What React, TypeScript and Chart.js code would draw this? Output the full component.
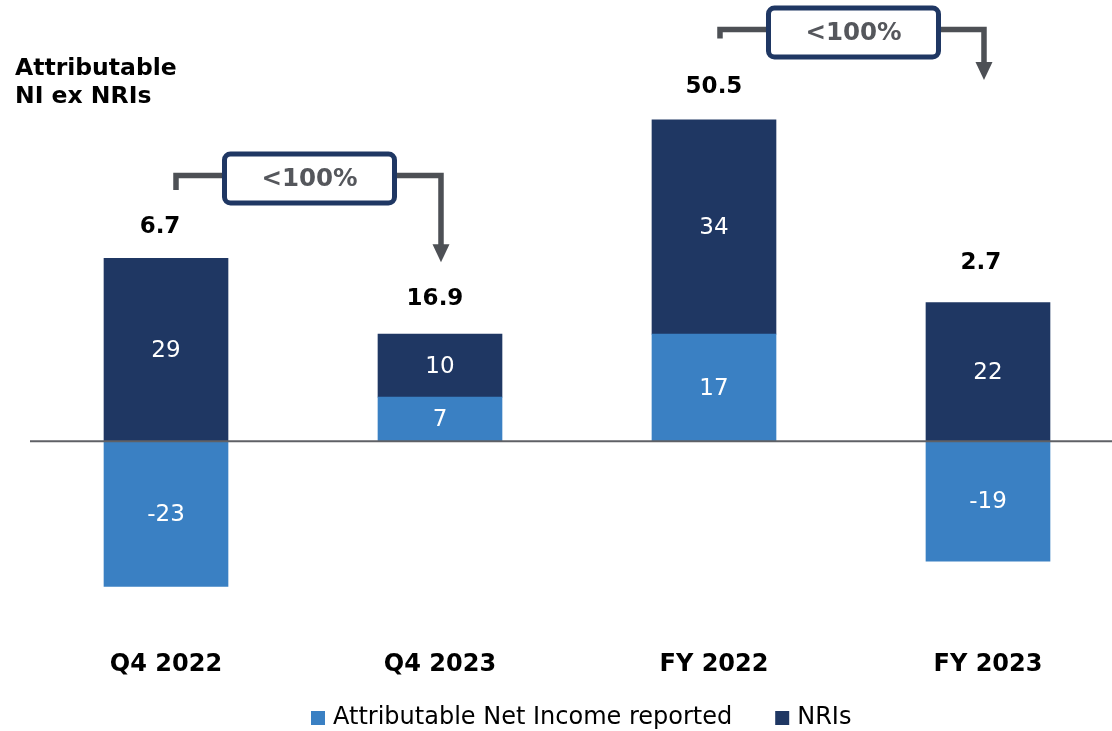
import React, { useEffect, useRef } from 'react';
import { Chart, registerables } from 'chart.js';

Chart.register(...registerables);

const categories = ['Q4 2022', 'Q4 2023', 'FY 2022', 'FY 2023'];
const reported = [-23, 7, 17, -19];
const nris = [29, 10, 34, 22];
const totals = ['6.7', '16.9', '50.5', '2.7'];
const seriesNames = ['Attributable Net Income reported', 'NRIs'];
const yTitle = ['Attributable', 'NI ex NRIs'];
const bracketLabel = '<100%';

const LIGHT = '#3a80c3';
const NAVY = '#1f3763';
const FONT = '"DejaVu Sans", Verdana, sans-serif';

const annotPlugin = {
  id: 'annot',
  afterDatasetsDraw(chart: any) {
    const { ctx, scales } = chart;
    const x = scales.x;
    const y = scales.y;
    ctx.save();

    // zero line
    const y0 = y.getPixelForValue(0);
    ctx.strokeStyle = '#5f6166';
    ctx.lineWidth = 2;
    ctx.beginPath();
    ctx.moveTo(30, y0);
    ctx.lineTo(chart.width, y0);
    ctx.stroke();

    // segment labels
    ctx.textAlign = 'center';
    ctx.textBaseline = 'middle';
    ctx.fillStyle = '#ffffff';
    ctx.font = `23px ${FONT}`;
    const sets = [reported, nris];
    chart.data.datasets.forEach((_ds: any, di: number) => {
      const meta = chart.getDatasetMeta(di);
      meta.data.forEach((bar: any, i: number) => {
        const p = bar.getProps(['x', 'y', 'base'], true);
        ctx.fillText(String(sets[di][i]), p.x, (p.y + p.base) / 2 + 1);
      });
    });

    // totals above stacks
    const nudgeX = [-6, -5, 0, -7];
    const nudgeY = [-31, -35, -33, -40];
    ctx.fillStyle = '#000000';
    ctx.font = `bold 23px ${FONT}`;
    const topMeta = chart.getDatasetMeta(1);
    topMeta.data.forEach((bar: any, i: number) => {
      const p = bar.getProps(['x', 'y'], true);
      ctx.fillText(totals[i], p.x + nudgeX[i], p.y + nudgeY[i]);
    });

    // axis title
    ctx.textAlign = 'left';
    ctx.font = `bold 23.5px ${FONT}`;
    ctx.fillText(yTitle[0], 15, 69);
    ctx.fillText(yTitle[1], 15, 97);

    // brackets
    const drawBracket = (
      xl: number, xr: number, level: number, startDy: number, tipVal: number, boxL: number
    ) => {
      const hy = y.getPixelForValue(level);
      const tipY = y.getPixelForValue(tipVal);
      ctx.strokeStyle = '#4d5055';
      ctx.fillStyle = '#4d5055';
      ctx.lineWidth = 5.5;
      ctx.lineJoin = 'miter';
      ctx.lineCap = 'butt';
      ctx.beginPath();
      ctx.moveTo(xl, hy + startDy);
      ctx.lineTo(xl, hy);
      ctx.lineTo(xr, hy);
      ctx.lineTo(xr, tipY - 16);
      ctx.stroke();
      ctx.beginPath();
      ctx.moveTo(xr - 8.5, tipY - 18);
      ctx.lineTo(xr + 8.5, tipY - 18);
      ctx.lineTo(xr, tipY);
      ctx.closePath();
      ctx.fill();
      // box (outer 175 x 54)
      const sw = 5;
      const bt = hy + 3 - 27 + sw / 2;
      const bh = 54 - sw;
      const bl = boxL + sw / 2;
      const bw = 175 - sw;
      ctx.fillStyle = '#ffffff';
      ctx.strokeStyle = NAVY;
      ctx.lineWidth = sw;
      ctx.beginPath();
      (ctx as any).roundRect(bl, bt, bw, bh, 6);
      ctx.fill();
      ctx.stroke();
      ctx.fillStyle = '#55575c';
      ctx.font = `bold 24.5px ${FONT}`;
      ctx.textAlign = 'center';
      ctx.textBaseline = 'middle';
      ctx.fillText(bracketLabel, bl + bw / 2, bt + bh / 2 + 1);
    };
    const px = (v: number) => x.getPixelForValue(v);
    drawBracket(px(0) + 10, px(1) + 1, 42.14, 14.5, 28.4, px(0) + 56);
    drawBracket(px(2) + 6, px(3) - 4, 65.3, 9, 57.3, px(2) + 52);

    // legend
    ctx.textAlign = 'left';
    ctx.textBaseline = 'middle';
    ctx.font = `24px ${FONT}`;
    const colors = [LIGHT, NAVY];
    let lx = 311;
    const ly = 718;
    seriesNames.forEach((name, i) => {
      ctx.fillStyle = colors[i];
      ctx.fillRect(lx, ly - 7, 14, 14);
      ctx.fillStyle = '#000000';
      ctx.fillText(name, lx + 22, ly);
      lx += 22 + ctx.measureText(name).width + 43;
    });

    ctx.restore();
  },
};

export default function App() {
  const ref = useRef<HTMLCanvasElement>(null);
  useEffect(() => {
    const chart = new Chart(ref.current as HTMLCanvasElement, {
      type: 'bar',
      data: {
        datasets: [
          {
            label: seriesNames[0],
            data: reported.map((v, i) => ({ x: i, y: v })),
            backgroundColor: LIGHT,
            borderWidth: 0,
            barThickness: 124,
          },
          {
            label: seriesNames[1],
            data: nris.map((v, i) => ({ x: i, y: v })),
            backgroundColor: NAVY,
            borderWidth: 0,
            barThickness: 124,
          },
        ],
      } as any,
      options: {
        animation: false,
        responsive: true,
        maintainAspectRatio: false,
        events: [],
        layout: { padding: { left: 29, right: 0, top: 94.5, bottom: 32.7 } },
        plugins: {
          tooltip: { enabled: false },
          legend: { display: false },
        },
        scales: {
          x: {
            type: 'linear',
            offset: false,
            stacked: true,
            min: -0.5,
            max: 3.4526,
            grid: { display: false, drawTicks: false },
            border: { display: false },
            ticks: {
              stepSize: 1,
              includeBounds: false,
              autoSkip: false,
              maxRotation: 0,
              padding: 19.5,
              color: '#000',
              font: { family: FONT, size: 24, weight: 'bold' },
              callback: (v: any) => (Number.isInteger(v) && categories[v] ? categories[v] : ''),
            },
          },
          y: {
            stacked: true,
            display: false,
            min: -30,
            max: 55,
          },
        },
      } as any,
      plugins: [annotPlugin],
    });
    return () => chart.destroy();
  }, []);
  return (
    <div style={{ position: 'absolute', left: 0, top: 0, width: 1112, height: 731, background: '#fff' }}>
      <canvas ref={ref} />
    </div>
  );
}
